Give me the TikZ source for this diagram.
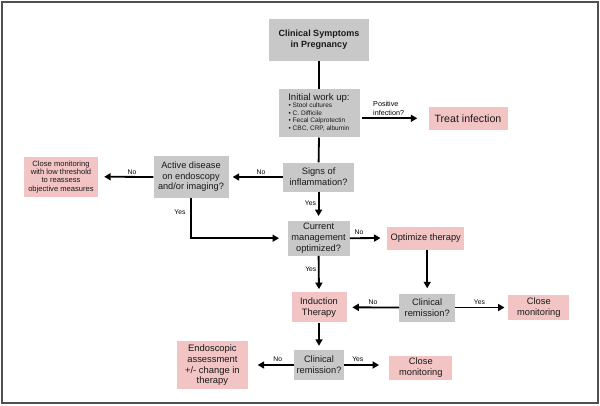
\documentclass[tikz,border=0pt]{standalone}
\usepackage{fontspec}
\setmainfont{Liberation Sans}
\usetikzlibrary{arrows.meta,calc}
\definecolor{boxgray}{HTML}{C8C8C8}
\definecolor{boxpink}{HTML}{F2C4C4}
\definecolor{framegray}{HTML}{505050}
\begin{document}
\begin{tikzpicture}[x=1pt,y=-1pt,
  base/.style={inner sep=0pt,align=center,text=black!90,font=\fontsize{9.3}{10.7}\selectfont},
  gbox/.style={base,fill=boxgray},
  pbox/.style={base,fill=boxpink},
  lbl/.style={inner sep=0pt,font=\fontsize{6.8}{7.6}\selectfont},
  arr/.style={line width=1.8pt,-{Triangle[length=6.5pt,width=7pt]}},
  ln/.style={line width=1.8pt}]
\useasboundingbox (0,0) rectangle (600,405);
\draw[framegray,line width=1.5pt] (2,2) rectangle (598,403);

% nodes
\node[gbox,minimum width=100,minimum height=42,font=\bfseries\fontsize{9}{10.7}\selectfont] (cs) at (319,40) {Clinical Symptoms\\in Pregnancy};
\node[gbox,minimum width=81,minimum height=48] (iw) at (319,113.3)
  {{\fontsize{9.6}{10}\selectfont Initial work up:}\\[-1.5pt]
   {\fontsize{6.5}{7.8}\selectfont\begin{tabular}{@{}l@{}}
   \textbullet\ Stool cultures\\
   \textbullet\ C. Difficile\\
   \textbullet\ Fecal Calprotectin\\
   \textbullet\ CBC, CRP, albumin
   \end{tabular}}};
\node[pbox,minimum width=79,minimum height=23,font=\fontsize{10.6}{12}\selectfont] (ti) at (468,118.3) {Treat infection};
\node[gbox,minimum width=71,minimum height=29] (si) at (318.6,177) {Signs of\\inflammation?};
\node[gbox,minimum width=75,minimum height=42,font=\fontsize{9.2}{10.4}\selectfont] (ad) at (191,177) {Active disease\\on endoscopy\\and/or imaging?};
\node[pbox,minimum width=74,minimum height=40,font=\fontsize{7.6}{8.3}\selectfont] (ct) at (61,176.7) {Close monitoring\\with low threshold\\to reassess\\objective measures};
\node[gbox,minimum width=62,minimum height=35] (cm) at (318.6,238.2) {Current\\management\\optimized?};
\node[pbox,minimum width=77,minimum height=23] (ot) at (425.7,238) {Optimize therapy};
\node[pbox,minimum width=55,minimum height=30] (it) at (319,307.3) {Induction\\Therapy};
\node[gbox,minimum width=56,minimum height=28] (cr1) at (427.2,307.5) {Clinical\\remission?};
\node[pbox,minimum width=61,minimum height=25] (cl1) at (538.8,307.5) {Close\\monitoring};
\node[gbox,minimum width=50,minimum height=30] (cr2) at (319,365) {Clinical\\remission?};
\node[pbox,minimum width=71,minimum height=48,font=\fontsize{9.4}{10.8}\selectfont] (en) at (212.4,365.2) {Endoscopic\\assessment\\+/- change in\\therapy};
\node[pbox,minimum width=63,minimum height=24] (cl2) at (420.8,367.8) {Close\\monitoring};

% labels
\node[lbl,align=left,anchor=west,font=\fontsize{7.2}{8.6}\selectfont] (lpos) at (373,108.5) {Positive\\infection?};
\node[lbl] (l1) at (261,172) {No};
\node[lbl] (l2) at (132,172) {No};
\node[lbl] (l3) at (310.5,203.5) {Yes};
\node[lbl] (l4) at (180,211.7) {Yes};
\node[lbl] (l5) at (359,231.7) {No};
\node[lbl] (l6) at (310.8,269) {Yes};
\node[lbl] (l7) at (373,302.3) {No};
\node[lbl] (l8) at (479.5,302.3) {Yes};
\node[lbl] (l9) at (277.7,359.3) {No};
\node[lbl] (l10) at (357.8,359.3) {Yes};

% connectors
\draw[ln] (cs.south) -- (iw.north);
\draw[arr,shorten <=2pt,shorten >=11pt] (iw.east |- ti.west) -- (ti.west);
\draw[ln] (iw.south) -- (si.north);
\draw[arr,shorten >=4pt] (si.west) -- (ad.east);
\draw[arr,shorten >=6pt] (ad.west) -- (ct.east);
\draw[arr,shorten >=4.5pt] (si.south) -- (cm.north);
\draw[arr,shorten >=8.4pt] (ad.south) |- (cm.west);
\draw[arr,shorten >=6.5pt] (cm.east) -- (ot.west);
\draw[arr,shorten >=5pt] (ot.south -| cr1.north) -- (cr1.north);
\draw[arr,shorten >=3pt] (cm.south) -- (it.north);
\draw[arr,shorten >=5.6pt] (cr1.west) -- (it.east);
\draw[arr,shorten >=3.6pt] (cr1.east) -- (cl1.west);
\draw[arr,shorten >=4pt] (it.south) -- (cr2.north);
\draw[arr,shorten >=9.6pt] (cr2.west) -- (en.east |- cr2.west);
\draw[arr,shorten >=10pt] (cr2.east) -- (cl2.west |- cr2.east);
\end{tikzpicture}
\end{document}
